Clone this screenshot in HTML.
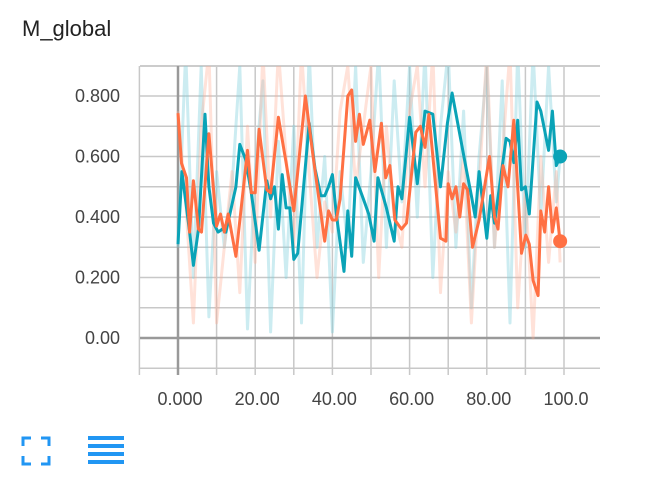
<!DOCTYPE html>
<html><head><meta charset="utf-8"><style>
body{margin:0;background:#fff;width:662px;height:488px;overflow:hidden;font-family:"Liberation Sans",sans-serif}
#title{position:absolute;left:22px;top:16px;font-size:22px;color:#222}
svg{position:absolute;left:0;top:0}
</style></head><body>
<div id="title">M_global</div>
<svg id="chart" width="662" height="488"></svg>
<script>
const xTicks=[0,20,40,60,80,100];
const xTickLabels=["0.000","20.00","40.00","60.00","80.00","100.0"];
const yTicks=[0,0.2,0.4,0.6,0.8];
const yTickLabels=["0.00","0.200","0.400","0.600","0.800"];
const orangeSteps=[0,0.9,2.2,3,4,5.3,6.1,8,10,11,12,13,15,18,19,20,21,23,24,26,28,30,33,35,38,39,40,41,42,44,45,46,47,48,49.7,51,52.7,53.8,54.9,56.2,57.9,59.2,61.6,62.8,64,65,68,69.4,70,71,72,73,74,75,76.3,78,80.7,82,82.9,84.2,85.5,87,89,90.1,91,92,93.3,94,95,96,97,98,99];
const orangeSmooth=[0.743,0.578,0.53,0.35,0.52,0.36,0.35,0.675,0.37,0.41,0.35,0.41,0.27,0.62,0.48,0.48,0.69,0.49,0.48,0.73,0.58,0.42,0.8,0.6,0.32,0.42,0.39,0.39,0.46,0.8,0.82,0.65,0.74,0.64,0.72,0.55,0.71,0.53,0.57,0.39,0.36,0.38,0.68,0.7,0.63,0.74,0.33,0.32,0.51,0.46,0.5,0.4,0.51,0.49,0.3,0.39,0.6,0.4,0.36,0.57,0.5,0.72,0.28,0.34,0.31,0.19,0.14,0.42,0.35,0.5,0.35,0.43,0.32];
const tealSteps=[0,1,3,4,5.3,7,8,9.2,10.4,11.5,12.4,15,16,17.5,19,21,23,24,25,26,27,28,29,30,31,34,35.5,37,38,39,40,41,43,44,45,46,48,49.4,50.8,51.8,54,56,57,58,60,62,64,66,68,69.8,71,74.5,76,77,78,80,81,82,85,86,87,88,89,90,91,93,94,96,97,98,99];
const tealSmooth=[0.31,0.55,0.35,0.24,0.36,0.74,0.5,0.38,0.35,0.36,0.35,0.5,0.64,0.59,0.48,0.29,0.52,0.46,0.5,0.36,0.54,0.43,0.43,0.26,0.28,0.71,0.56,0.47,0.47,0.5,0.54,0.41,0.22,0.42,0.27,0.53,0.46,0.41,0.32,0.53,0.43,0.32,0.5,0.46,0.73,0.51,0.75,0.74,0.5,0.71,0.81,0.57,0.47,0.4,0.55,0.33,0.47,0.38,0.66,0.65,0.58,0.72,0.49,0.5,0.41,0.78,0.75,0.62,0.75,0.57,0.6];
const rawSteps=[0,2,4,6,8,10,12,14,16,18,20,22,24,26,28,30,32,34,36,38,40,42,44,46,48,50,52,54,56,58,60,62,64,66,68,70,72,74,76,78,80,82,84,86,88,90,92,94,96,98,99];
const orangeRaw=[0.75,0.45,0.05,0.7,0.95,0.05,0.3,0.55,0.15,0.7,0.25,0.95,0.4,0.95,0.6,0.3,0.95,0.55,0.2,0.45,0.35,0.75,0.9,0.5,0.7,0.9,0.2,0.7,0.4,0.3,0.75,0.9,0.5,0.95,0.15,0.55,0.35,0.6,0.05,0.5,0.95,0.3,0.6,0.95,0.1,0.5,0.0,0.6,0.25,0.55,0.25];
const tealRaw=[0.3,0.95,0.2,0.9,0.07,0.55,0.3,0.5,0.9,0.03,0.55,0.85,0.02,0.65,0.2,0.7,0.05,0.95,0.3,0.6,0.02,0.55,0.3,0.9,0.25,0.55,0.95,0.3,0.85,0.45,0.9,0.4,0.95,0.2,0.7,0.95,0.3,0.75,0.1,0.6,0.9,0.3,0.85,0.05,0.95,0.3,0.95,0.4,0.9,0.45,0.6];

const NS="http://www.w3.org/2000/svg";
const svg=document.getElementById('chart');
const L=140,R=600,T=66,B=375;
const xs=u=>178+u*3.86;
const ys=v=>338-v*302.5;
function mk(tag,attrs){const e=document.createElementNS(NS,tag);for(const k in attrs)e.setAttribute(k,attrs[k]);svg.appendChild(e);return e;}
const defs=mk('defs',{});
const cp=document.createElementNS(NS,'clipPath');cp.setAttribute('id','clip');
const cr=document.createElementNS(NS,'rect');cr.setAttribute('x',L);cr.setAttribute('y',T);cr.setAttribute('width',R-L);cr.setAttribute('height',B-T);
cp.appendChild(cr);defs.appendChild(cp);
for(let k=-1;k<=9;k++){const y=ys(k*0.1);if(y<T-1||y>B)continue;
 const g=mk('line',{x1:L,x2:R,y1:y,y2:y,stroke:'#c8c8c8','stroke-width':1.5});
 }
for(let u=-10;u<=110;u+=10){const x=xs(u);if(x<L-1||x>R+1)continue;
 const g=mk('line',{x1:x,x2:x,y1:T,y2:B,stroke:'#c8c8c8','stroke-width':1.5});
 }
const bt=mk('line',{x1:L,x2:R,y1:T,y2:T,stroke:'#ccc','stroke-width':2});

const z1=mk('line',{x1:L,x2:R,y1:ys(0),y2:ys(0),stroke:'#999','stroke-width':2.5});

const z2=mk('line',{x1:xs(0),x2:xs(0),y1:T,y2:B,stroke:'#999','stroke-width':2.5});

function line(steps,vals,color,w,op,name){
 const d=steps.map((s,i)=>(i?'L':'M')+xs(s).toFixed(1)+','+ys(vals[i]).toFixed(1)).join('');
 const p=mk('path',{d:d,fill:'none',stroke:color,'stroke-width':w,'stroke-opacity':op,'stroke-linejoin':'round','clip-path':'url(#clip)'});
 }
line(rawSteps,tealRaw,'#80d0dc',3,0.4,'teal-raw-line');
line(rawSteps,orangeRaw,'#ffab91',3,0.35,'orange-raw-line');
line(tealSteps,tealSmooth,'#0aa3b7',3,1,'teal-smoothed-line');
line(orangeSteps,orangeSmooth,'#ff7043',3,1,'orange-smoothed-line');
const td=mk('circle',{cx:xs(tealSteps[tealSteps.length-1]),cy:ys(tealSmooth[tealSmooth.length-1]),r:7,fill:'#0aa3b7'});

const od=mk('circle',{cx:xs(orangeSteps[orangeSteps.length-1]),cy:ys(orangeSmooth[orangeSmooth.length-1]),r:7,fill:'#ff7043'});

yTicks.forEach((v,i)=>{const t=mk('text',{x:120,y:ys(v)+6,'text-anchor':'end','font-size':18,fill:'#444'});t.textContent=yTickLabels[i];
 });
xTicks.forEach((v,i)=>{const t=mk('text',{x:xs(v)+2,y:405,'text-anchor':'middle','font-size':18,fill:'#444'});t.textContent=xTickLabels[i];
 });
</script>
<svg width="662" height="488" style="pointer-events:none">
<g stroke="#2196f3" stroke-width="3" fill="none">
<path d="M23,446 V438 H31 M41,438 H49 V446 M49,456 V464 H41 M31,464 H23 V456"/>
</g>
<g fill="#2196f3">
<rect x="88" y="436" width="36" height="4"/><rect x="88" y="444" width="36" height="4"/>
<rect x="88" y="452" width="36" height="4"/><rect x="88" y="460" width="36" height="4"/>
</g>
</svg>
</body></html>
